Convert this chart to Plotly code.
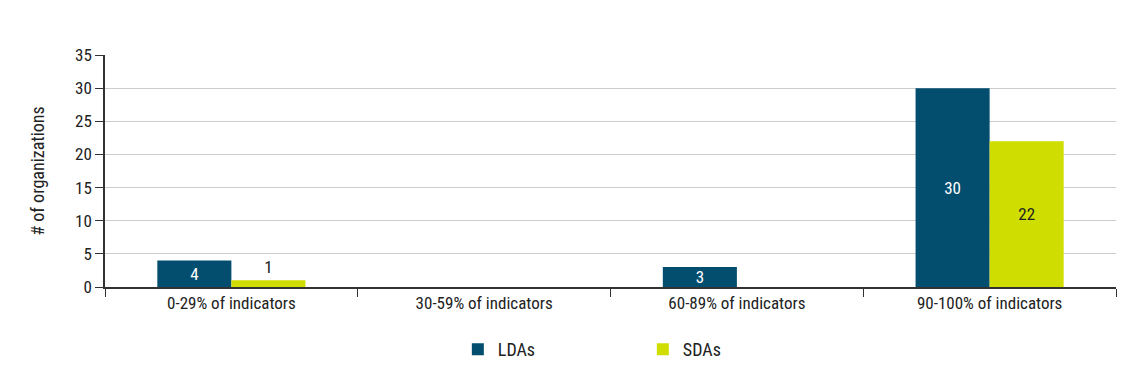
import plotly.graph_objects as go

categories = ["0-29% of indicators", "30-59% of indicators", "60-89% of indicators", "90-100% of indicators"]
lda_values = [4, 0, 3, 30]
sda_values = [1, 0, 0, 22]
series_names = ["LDAs", "SDAs"]
y_ticks = [0, 5, 10, 15, 20, 25, 30, 35]

FONT = "Liberation Sans Narrow, Arial Narrow, Roboto Condensed, sans-serif"
LDA_COLOR = "#034d6e"
SDA_COLOR = "#d0dd00"

def labels(vals):
    return [str(v) if v else "" for v in vals]

fig = go.Figure()
fig.add_trace(go.Bar(
    x=categories, y=lda_values, name=series_names[0],
    marker=dict(color=LDA_COLOR, line=dict(width=0)),
    text=labels(lda_values), textposition="inside", insidetextanchor="middle", textangle=0,
    constraintext="none",
    insidetextfont=dict(color="white", size=17, family=FONT),
    outsidetextfont=dict(color="#222222", size=17, family=FONT),
    cliponaxis=False,
))
fig.add_trace(go.Bar(
    x=categories, y=sda_values, name=series_names[1],
    marker=dict(color=SDA_COLOR, line=dict(width=0)),
    text=labels(sda_values), textposition="auto", insidetextanchor="middle", textangle=0,
    constraintext="none",
    insidetextfont=dict(color="#222222", size=17, family=FONT),
    outsidetextfont=dict(color="#222222", size=17, family=FONT),
    cliponaxis=False,
))

fig.update_layout(
    width=1128, height=375,
    margin=dict(l=97, r=20, t=47, b=96, autoexpand=False),
    paper_bgcolor="white", plot_bgcolor="white",
    barmode="group", bargap=0.414, bargroupgap=0,
    font=dict(family=FONT, size=17, color="#222222"),
    showlegend=True,
    legend=dict(orientation="h", x=0.349, xanchor="left", y=-0.27, yanchor="middle",
                font=dict(size=18, family=FONT, color="#222222"),
                entrywidth=140, entrywidthmode="pixels",
                traceorder="normal"),
    xaxis=dict(
        type="category", showgrid=False, showline=True, linecolor="#333333", linewidth=1.5,
        ticks="outside", tickson="boundaries", ticklen=8, tickcolor="#333333",
        tickfont=dict(size=17, family=FONT, color="#222222"),
        range=[-0.5, 3.5], automargin=False,
    ),
    yaxis=dict(
        range=[0, 35], tickvals=y_ticks, showgrid=True, gridcolor="#cccccc", gridwidth=1,
        showline=True, linecolor="#333333", linewidth=1.5,
        ticks="outside", ticklen=8, tickcolor="#333333",
        tickfont=dict(size=17, family=FONT, color="#222222"),
        title=dict(text="# of organizations", font=dict(size=18, family=FONT, color="#222222"), standoff=26),
        zeroline=False, automargin=False,
    ),
)

fig.write_html("out.html")
